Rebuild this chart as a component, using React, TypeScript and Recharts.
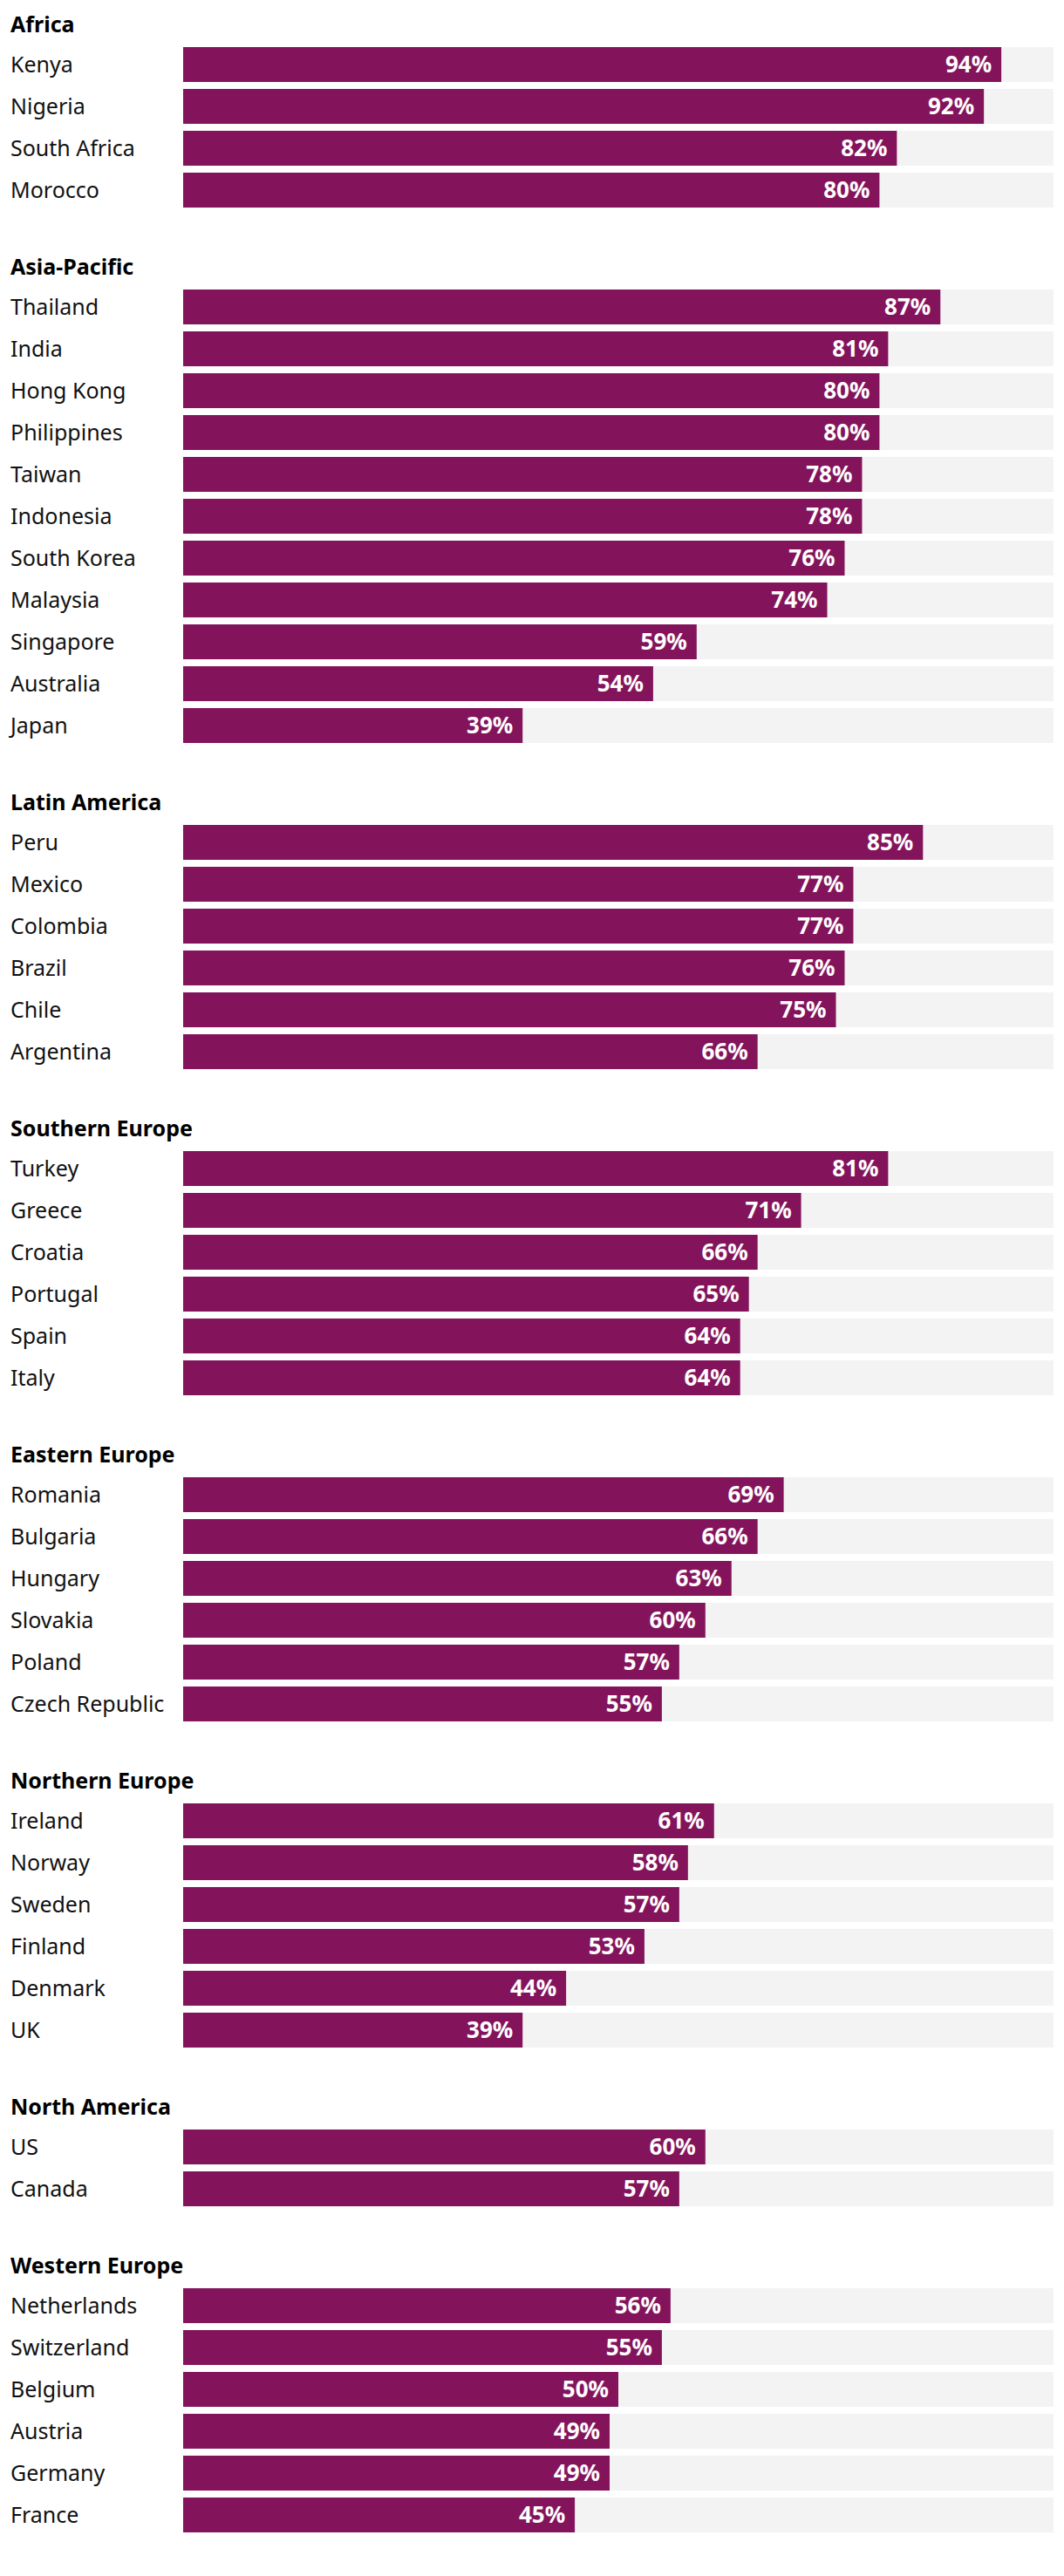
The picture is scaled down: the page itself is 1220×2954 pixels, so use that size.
import { BarChart, Bar, XAxis, YAxis, LabelList } from "recharts";

const groups = [
  "Africa",
  "Asia-Pacific",
  "Latin America",
  "Southern Europe",
  "Eastern Europe",
  "Northern Europe",
  "North America",
  "Western Europe",
];

const africaCountries = ["Kenya", "Nigeria", "South Africa", "Morocco"];
const africaValues = [94, 92, 82, 80];

const asiaCountries = [
  "Thailand", "India", "Hong Kong", "Philippines", "Taiwan", "Indonesia",
  "South Korea", "Malaysia", "Singapore", "Australia", "Japan",
];
const asiaValues = [87, 81, 80, 80, 78, 78, 76, 74, 59, 54, 39];

const latamCountries = ["Peru", "Mexico", "Colombia", "Brazil", "Chile", "Argentina"];
const latamValues = [85, 77, 77, 76, 75, 66];

const southEuCountries = ["Turkey", "Greece", "Croatia", "Portugal", "Spain", "Italy"];
const southEuValues = [81, 71, 66, 65, 64, 64];

const eastEuCountries = ["Romania", "Bulgaria", "Hungary", "Slovakia", "Poland", "Czech Republic"];
const eastEuValues = [69, 66, 63, 60, 57, 55];

const northEuCountries = ["Ireland", "Norway", "Sweden", "Finland", "Denmark", "UK"];
const northEuValues = [61, 58, 57, 53, 44, 39];

const northAmCountries = ["US", "Canada"];
const northAmValues = [60, 57];

const westEuCountries = ["Netherlands", "Switzerland", "Belgium", "Austria", "Germany", "France"];
const westEuValues = [56, 55, 50, 49, 49, 45];

const groupCountries = [
  africaCountries, asiaCountries, latamCountries, southEuCountries,
  eastEuCountries, northEuCountries, northAmCountries, westEuCountries,
];
const groupValues = [
  africaValues, asiaValues, latamValues, southEuValues,
  eastEuValues, northEuValues, northAmValues, westEuValues,
];

const PURPLE = "#83145c";
const TRACK = "#f3f3f3";
const FONT = "'Noto Sans', sans-serif";
const ROW = 48;

const CountryTick = (props: any) => {
  const { y, payload } = props;
  return (
    <text x={12} y={y} dy="0.35em" textAnchor="start" fontSize={25} fill="#111" fontFamily={FONT}>
      {payload.value}
    </text>
  );
};

const ValueLabel = (props: any) => {
  const { x, y, width, height, value } = props;
  return (
    <text
      x={x + width - 11}
      y={y + height / 2}
      dy="0.35em"
      textAnchor="end"
      fontSize={26}
      fontWeight={700}
      fill="#fff"
      fontFamily={FONT}
    >
      {value}%
    </text>
  );
};

const GroupChart = ({ title, countries, values }: { title: string; countries: string[]; values: number[] }) => {
  const data = countries.map((c, i) => ({ country: c, value: values[i] }));
  return (
    <div style={{ marginBottom: 36 }}>
      <div
        style={{
          height: 50,
          lineHeight: "54px",
          paddingLeft: 12,
          fontSize: 25,
          fontWeight: 700,
          fontFamily: FONT,
          color: "#000",
        }}
      >
        {title}
      </div>
      <BarChart
        width={1220}
        height={countries.length * ROW}
        data={data}
        layout="vertical"
        margin={{ top: 0, right: 12, bottom: 0, left: 0 }}
        barCategoryGap={4}
      >
        <XAxis type="number" domain={[0, 100]} hide />
        <YAxis
          type="category"
          dataKey="country"
          width={210}
          axisLine={false}
          tickLine={false}
          tick={<CountryTick />}
          interval={0}
        />
        <Bar dataKey="value" fill={PURPLE} barSize={40} background={{ fill: TRACK }} isAnimationActive={false}>
          <LabelList dataKey="value" content={<ValueLabel />} />
        </Bar>
      </BarChart>
    </div>
  );
}

export default function App() {
  return (
    <div style={{ width: 1220, background: "#fff" }}>
      <style>{"body{margin:0}"}</style>
      {groups.map((g, i) => (
        <GroupChart key={g} title={g} countries={groupCountries[i]} values={groupValues[i]} />
      ))}
    </div>
  );
}
